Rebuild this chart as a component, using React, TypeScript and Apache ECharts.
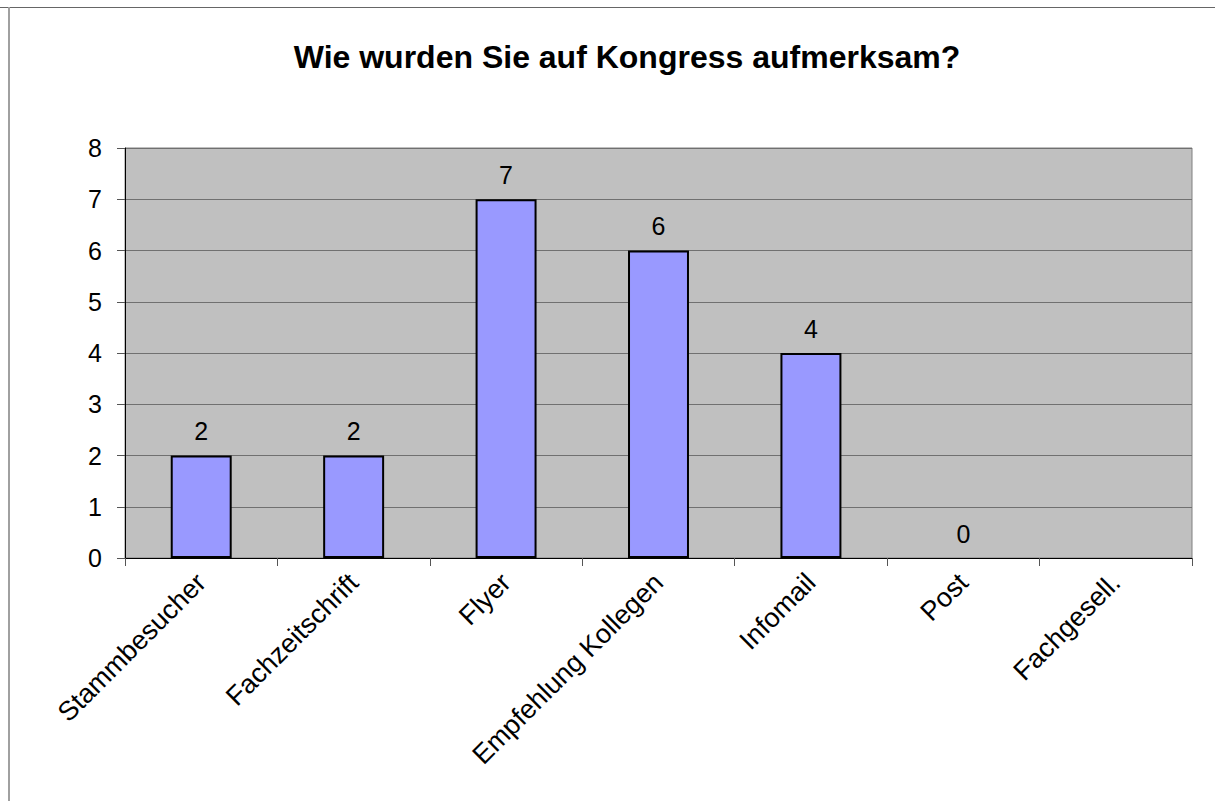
import React, { useEffect, useRef } from "react";
import * as echarts from "echarts";

const titleText = "Wie wurden Sie auf Kongress aufmerksam?";
const categories = [
  "Stammbesucher",
  "Fachzeitschrift",
  "Flyer",
  "Empfehlung Kollegen",
  "Infomail",
  "Post",
  "Fachgesell.",
];
const values: (number | string)[] = [2, 2, 7, 6, 4, 0, "-"];
const yMin = 0;
const yMax = 8;
const yInterval = 1;

const FONT = "'Liberation Sans', Arial, Helvetica, sans-serif";

export default function App() {
  const ref = useRef<HTMLDivElement>(null);
  useEffect(() => {
    if (!ref.current) return;
    const chart = echarts.init(ref.current, undefined, { renderer: "svg" });
    const barData = values.map((v) =>
      v === 0 ? { value: v, itemStyle: { borderWidth: 0 } } : v
    );
    chart.setOption({
      animation: false,
      backgroundColor: "#ffffff",
      title: {
        text: titleText,
        left: 622,
        textAlign: "center",
        top: 36,
        textStyle: {
          fontFamily: FONT,
          fontSize: 32,
          fontWeight: "bold",
          color: "#000",
        },
      },
      graphic: [
        {
          type: "line",
          shape: { x1: 0, y1: 7.5, x2: 1215, y2: 7.5 },
          style: { stroke: "#666666", lineWidth: 1 },
        },
        {
          type: "line",
          shape: { x1: 9, y1: 7, x2: 9, y2: 801 },
          style: { stroke: "#a0a0a0", lineWidth: 2 },
        },
      ],
      grid: {
        left: 125,
        right: 23,
        top: 148,
        bottom: 243,
        show: true,
        backgroundColor: "#c0c0c0",
        borderColor: "#808080",
        borderWidth: 1,
      },
      xAxis: {
        type: "category",
        data: categories,
        boundaryGap: true,
        axisLine: { show: true, lineStyle: { color: "#000", width: 1 } },
        axisTick: {
          show: true,
          alignWithLabel: false,
          length: 8,
          lineStyle: { color: "#555" },
        },
        axisLabel: {
          rotate: 45,
          interval: 0,
          margin: 20,
          fontFamily: FONT,
          fontSize: 27,
          color: "#000",
        },
        splitLine: { show: false },
      },
      yAxis: {
        type: "value",
        min: yMin,
        max: yMax,
        interval: yInterval,
        axisLine: { show: true, lineStyle: { color: "#000", width: 1 } },
        axisTick: { show: true, length: 8, lineStyle: { color: "#555" } },
        axisLabel: {
          margin: 23,
          fontFamily: FONT,
          fontSize: 25,
          color: "#000",
        },
        splitLine: { show: true, lineStyle: { color: "#707070", width: 1 } },
      },
      series: [
        {
          type: "bar",
          data: barData,
          barWidth: "40%",
          itemStyle: {
            color: "#9999ff",
            borderColor: "#000",
            borderWidth: 2,
          },
          label: {
            show: true,
            position: "top",
            distance: 12,
            fontFamily: FONT,
            fontSize: 25,
            color: "#000",
          },
        },
      ],
    });
    return () => chart.dispose();
  }, []);
  return (
    <div
      ref={ref}
      style={{ position: "absolute", left: 0, top: 0, width: 1215, height: 801 }}
    />
  );
}
